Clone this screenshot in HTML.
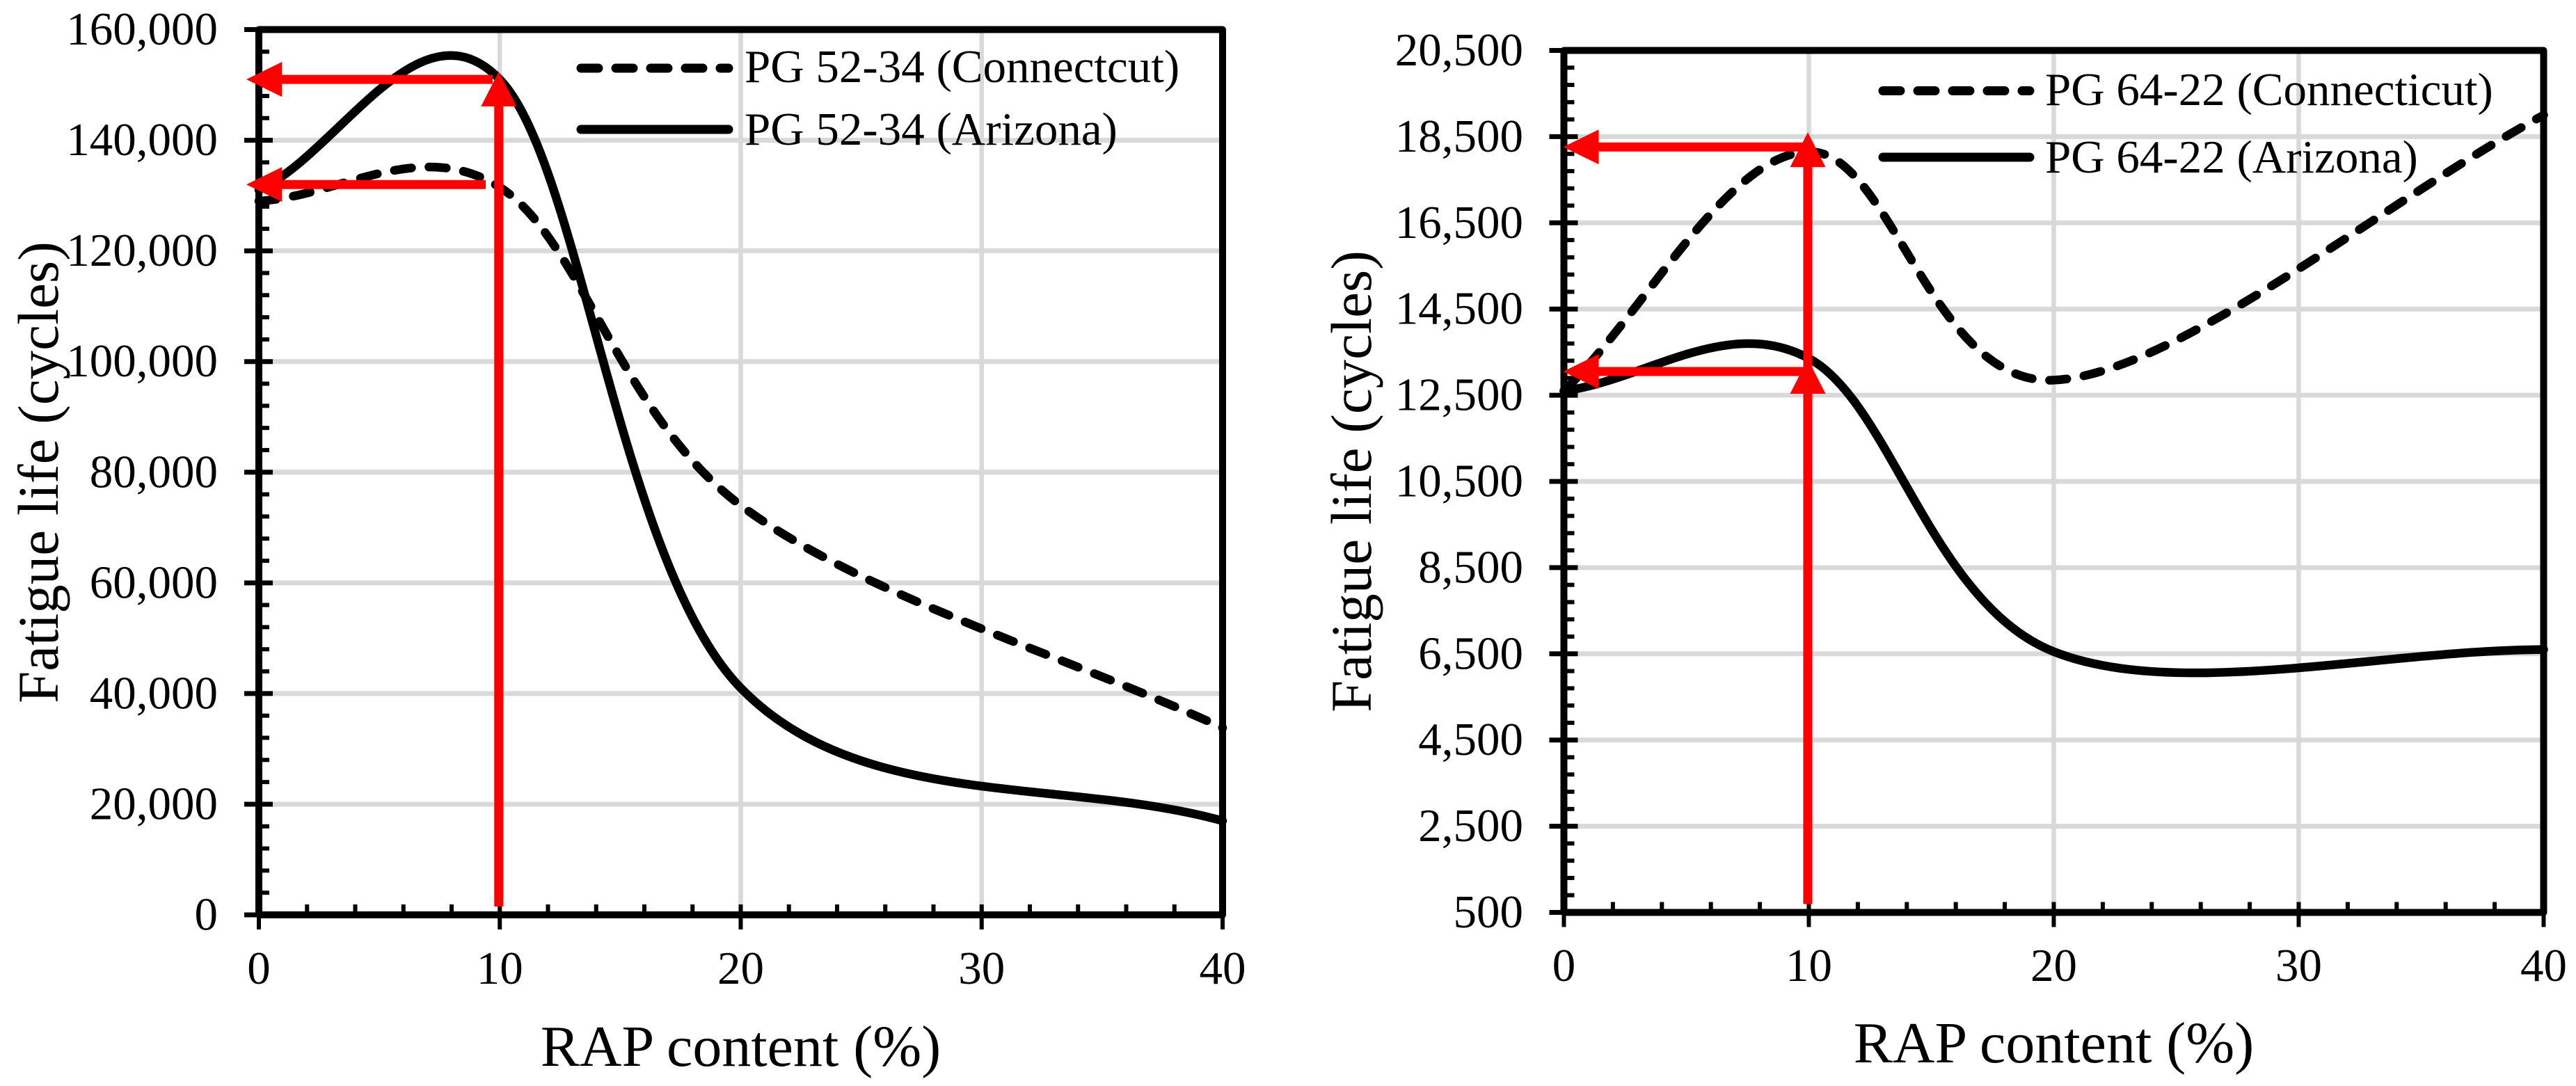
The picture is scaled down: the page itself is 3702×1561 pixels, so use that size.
<!DOCTYPE html>
<html lang="en">
<head>
<meta charset="utf-8">
<title>Fatigue life vs RAP content</title>
<style>
html,body{margin:0;padding:0;background:#fff;}
svg{display:block;}
text{font-family:"Liberation Serif","Times New Roman",serif;fill:#000;}
</style>
</head>
<body>
<svg id="figure" xmlns="http://www.w3.org/2000/svg" width="3702" height="1561" viewBox="0 0 3702 1561"></svg>
<script>
/* Shared x axis */
const xTicks = [0, 10, 20, 30, 40];
const rapContent = [0, 10, 20, 40];

/* Left chart */
const leftYTicks = [0, 20000, 40000, 60000, 80000, 100000, 120000, 140000, 160000];
const leftConnecticut = [129000, 131500, 74000, 33800];
const leftArizona = [131000, 151000, 41000, 17000];
const leftGuideValues = [151000, 132000];
const leftGuideTips = [152400];
const leftLegendLabels = ["PG 52-34 (Connectcut)", "PG 52-34 (Arizona)"];

/* Right chart */
const rightYTicks = [500, 2500, 4500, 6500, 8500, 10500, 12500, 14500, 16500, 18500, 20500];
const rightConnecticut = [12600, 18150, 12850, 19000];
const rightArizona = [12600, 13355, 6550, 6600];
const rightGuideValues = [18260, 13050];
const rightGuideTips = [18600, 13340];
const rightLegendLabels = ["PG 64-22 (Connecticut)", "PG 64-22 (Arizona)"];

const SVGNS = "http://www.w3.org/2000/svg";
const figure = document.getElementById("figure");

function make(tag, attrs, parent) {
  const el = document.createElementNS(SVGNS, tag);
  for (const k in attrs) el.setAttribute(k, attrs[k]);
  parent.appendChild(el);
  return el;
}

/* Excel-style smoothed line: Catmull-Rom segments through the data points */
function smoothPath(xs, ys) {
  let d = "M" + xs[0] + " " + ys[0];
  const n = xs.length;
  for (let i = 0; i < n - 1; i++) {
    const c1x = i === 0 ? xs[0] + (xs[1] - xs[0]) / 3 : xs[i] + (xs[i + 1] - xs[i - 1]) / 6;
    const c1y = i === 0 ? ys[0] + (ys[1] - ys[0]) / 3 : ys[i] + (ys[i + 1] - ys[i - 1]) / 6;
    const c2x = i === n - 2 ? xs[n - 1] - (xs[n - 1] - xs[n - 2]) / 3 : xs[i + 1] - (xs[i + 2] - xs[i]) / 6;
    const c2y = i === n - 2 ? ys[n - 1] - (ys[n - 1] - ys[n - 2]) / 3 : ys[i + 1] - (ys[i + 2] - ys[i]) / 6;
    d += " C" + c1x + " " + c1y + " " + c2x + " " + c2y + " " + xs[i + 1] + " " + ys[i + 1];
  }
  return d;
}

function drawChart(cfg) {
  const g = make("g", {}, figure);
  
  
  const xMin = xTicks[0], xMax = xTicks[xTicks.length - 1];
  const yMin = cfg.yTicks[0], yMax = cfg.yTicks[cfg.yTicks.length - 1];
  const sx = v => cfg.left + (v - xMin) / (xMax - xMin) * (cfg.right - cfg.left);
  const sy = v => cfg.bottom - (v - yMin) / (yMax - yMin) * (cfg.bottom - cfg.top);

  /* gridlines */
  xTicks.forEach(function (v) {
    if (v === xMin || v === xMax) return;
    const l = make("line", {x1: sx(v), x2: sx(v), y1: cfg.top, y2: cfg.bottom, stroke: "#d9d9d9", "stroke-width": 6.5}, g);
    
    
  });
  cfg.yTicks.forEach(function (v) {
    if (v === yMin || v === yMax) return;
    const l = make("line", {x1: cfg.left, x2: cfg.right, y1: sy(v), y2: sy(v), stroke: "#d9d9d9", "stroke-width": 7}, g);
    
    
  });

  /* legend text sits on the grid */
  cfg.legendLabels.forEach(function (label, i) {
    const t = make("text", {x: cfg.legendTextX, y: cfg.legendBase[i], "font-size": 67}, g);
    t.textContent = label;
    
    
  });

  /* series */
  const xsPix = rapContent.map(sx);
  const dashed = make("path", {d: smoothPath(xsPix, cfg.connecticut.map(sy)), fill: "none", stroke: "#000", "stroke-width": 12.5, "stroke-linecap": "round", "stroke-dasharray": "25 25"}, g);
  
  
  const solid = make("path", {d: smoothPath(xsPix, cfg.arizona.map(sy)), fill: "none", stroke: "#000", "stroke-width": 12.5, "stroke-linecap": "round"}, g);
  
  

  /* legend swatches */
  const swD = make("line", {x1: cfg.swatchX1, x2: cfg.swatchX2, y1: cfg.swatchY[0], y2: cfg.swatchY[0], stroke: "#000", "stroke-width": 13, "stroke-linecap": "round", "stroke-dasharray": "25 25"}, g);
  
  
  const swS = make("line", {x1: cfg.swatchX1, x2: cfg.swatchX2, y1: cfg.swatchY[1], y2: cfg.swatchY[1], stroke: "#000", "stroke-width": 13, "stroke-linecap": "round"}, g);
  
  

  /* frame */
  const frame = make("rect", {x: cfg.left, y: cfg.top, width: cfg.right - cfg.left, height: cfg.bottom - cfg.top, fill: "none", stroke: "#000", "stroke-width": 10, "stroke-linejoin": "round"}, g);
  
  

  /* y ticks and labels */
  cfg.yTicks.forEach(function (v, i) {
    const y = sy(v);
    const tick = make("line", {x1: cfg.left - 21, x2: cfg.left + 20, y1: y, y2: y, stroke: "#000", "stroke-width": 7}, g);
    
    
    const label = make("text", {x: cfg.yLabelX, y: y + 21.5, "font-size": 67, "text-anchor": "end"}, g);
    label.textContent = v.toLocaleString("en-US");
    
    
    if (i < cfg.yTicks.length - 1) {
      const step = (cfg.yTicks[i + 1] - v) / 5;
      for (let m = 1; m < 5; m++) {
        const my = sy(v + step * m);
        const minor = make("line", {x1: cfg.left, x2: cfg.left + 15, y1: my, y2: my, stroke: "#000", "stroke-width": 6}, g);
        
        
      }
    }
  });

  /* x ticks and labels */
  xTicks.forEach(function (v, i) {
    const x = sx(v);
    const tick = make("line", {x1: x, x2: x, y1: cfg.bottom - 15, y2: cfg.bottom + 21, stroke: "#000", "stroke-width": 6}, g);
    
    
    const label = make("text", {x: x, y: cfg.xLabelBase, "font-size": 67, "text-anchor": "middle"}, g);
    label.textContent = String(v);
    
    
    if (i < xTicks.length - 1) {
      const step = (xTicks[i + 1] - v) / 5;
      for (let m = 1; m < 5; m++) {
        const mx = sx(v + step * m);
        const minor = make("line", {x1: mx, x2: mx, y1: cfg.bottom - 15, y2: cfg.bottom, stroke: "#000", "stroke-width": 6}, g);
        
        
      }
    }
  });

  /* axis titles */
  const xt = make("text", {x: (cfg.left + cfg.right) / 2, y: cfg.xTitleBase, "font-size": 84, "text-anchor": "middle"}, g);
  xt.textContent = "RAP content (%)";
  
  
  const yt = make("text", {x: 0, y: 0, "font-size": 83, "text-anchor": "middle", transform: "translate(" + cfg.yTitleX + " " + cfg.yTitleY + ") rotate(-90)"}, g);
  yt.textContent = "Fatigue life (cycles)";
  
  

  /* red guide arrows */
  const guideX = sx(xTicks[1]);
  cfg.guideValues.forEach(function (v, i) {
    const y = sy(v);
    const shaft = make("line", {x1: cfg.left + 20, x2: cfg.guideEnd[i], y1: y, y2: y, stroke: "#ff0000", "stroke-width": 13}, g);
    
    
    const tipX = cfg.left - 18 + cfg.tipShift;
    const head = make("polygon", {points: tipX + "," + y + " " + (tipX + 51) + "," + (y - 25) + " " + (tipX + 51) + "," + (y + 25), fill: "#ff0000"}, g);
    
    
  });
  const shaftX = guideX - 1.5;
  const topTip = sy(Math.max.apply(null, cfg.guideTips));
  const stem = make("line", {x1: shaftX, x2: shaftX, y1: topTip + 30, y2: cfg.bottom - 12, stroke: "#ff0000", "stroke-width": 13}, g);
  
  
  cfg.guideTips.forEach(function (v) {
    const tip = sy(v);
    const head = make("polygon", {points: shaftX + "," + tip + " " + (shaftX - 25.5) + "," + (tip + 50) + " " + (shaftX + 25.5) + "," + (tip + 50), fill: "#ff0000"}, g);
    
    
  });
}

drawChart({
  name: "chart-pg-52-34",
  left: 372, right: 1757, top: 42.5, bottom: 1315,
  yTicks: leftYTicks, connecticut: leftConnecticut, arizona: leftArizona,
  guideValues: leftGuideValues, guideTips: leftGuideTips, guideEnd: [708, 698], tipShift: 0,
  legendLabels: leftLegendLabels, legendTextX: 1070, legendBase: [118, 208],
  swatchX1: 835, swatchX2: 1047, swatchY: [98, 186],
  yLabelX: 313, xLabelBase: 1414, xTitleBase: 1532, yTitleX: 83, yTitleY: 679
});
drawChart({
  name: "chart-pg-64-22",
  left: 2247.5, right: 3655.5, top: 72.5, bottom: 1311.5,
  yTicks: rightYTicks, connecticut: rightConnecticut, arizona: rightArizona,
  guideValues: rightGuideValues, guideTips: rightGuideTips, guideEnd: [2592, 2592], tipShift: 17,
  legendLabels: rightLegendLabels, legendTextX: 2939, legendBase: [151, 248],
  swatchX1: 2706, swatchX2: 2917, swatchY: [130.5, 226],
  yLabelX: 2189, xLabelBase: 1410, xTitleBase: 1527, yTitleX: 1970, yTitleY: 692
});
</script>
</body>
</html>
